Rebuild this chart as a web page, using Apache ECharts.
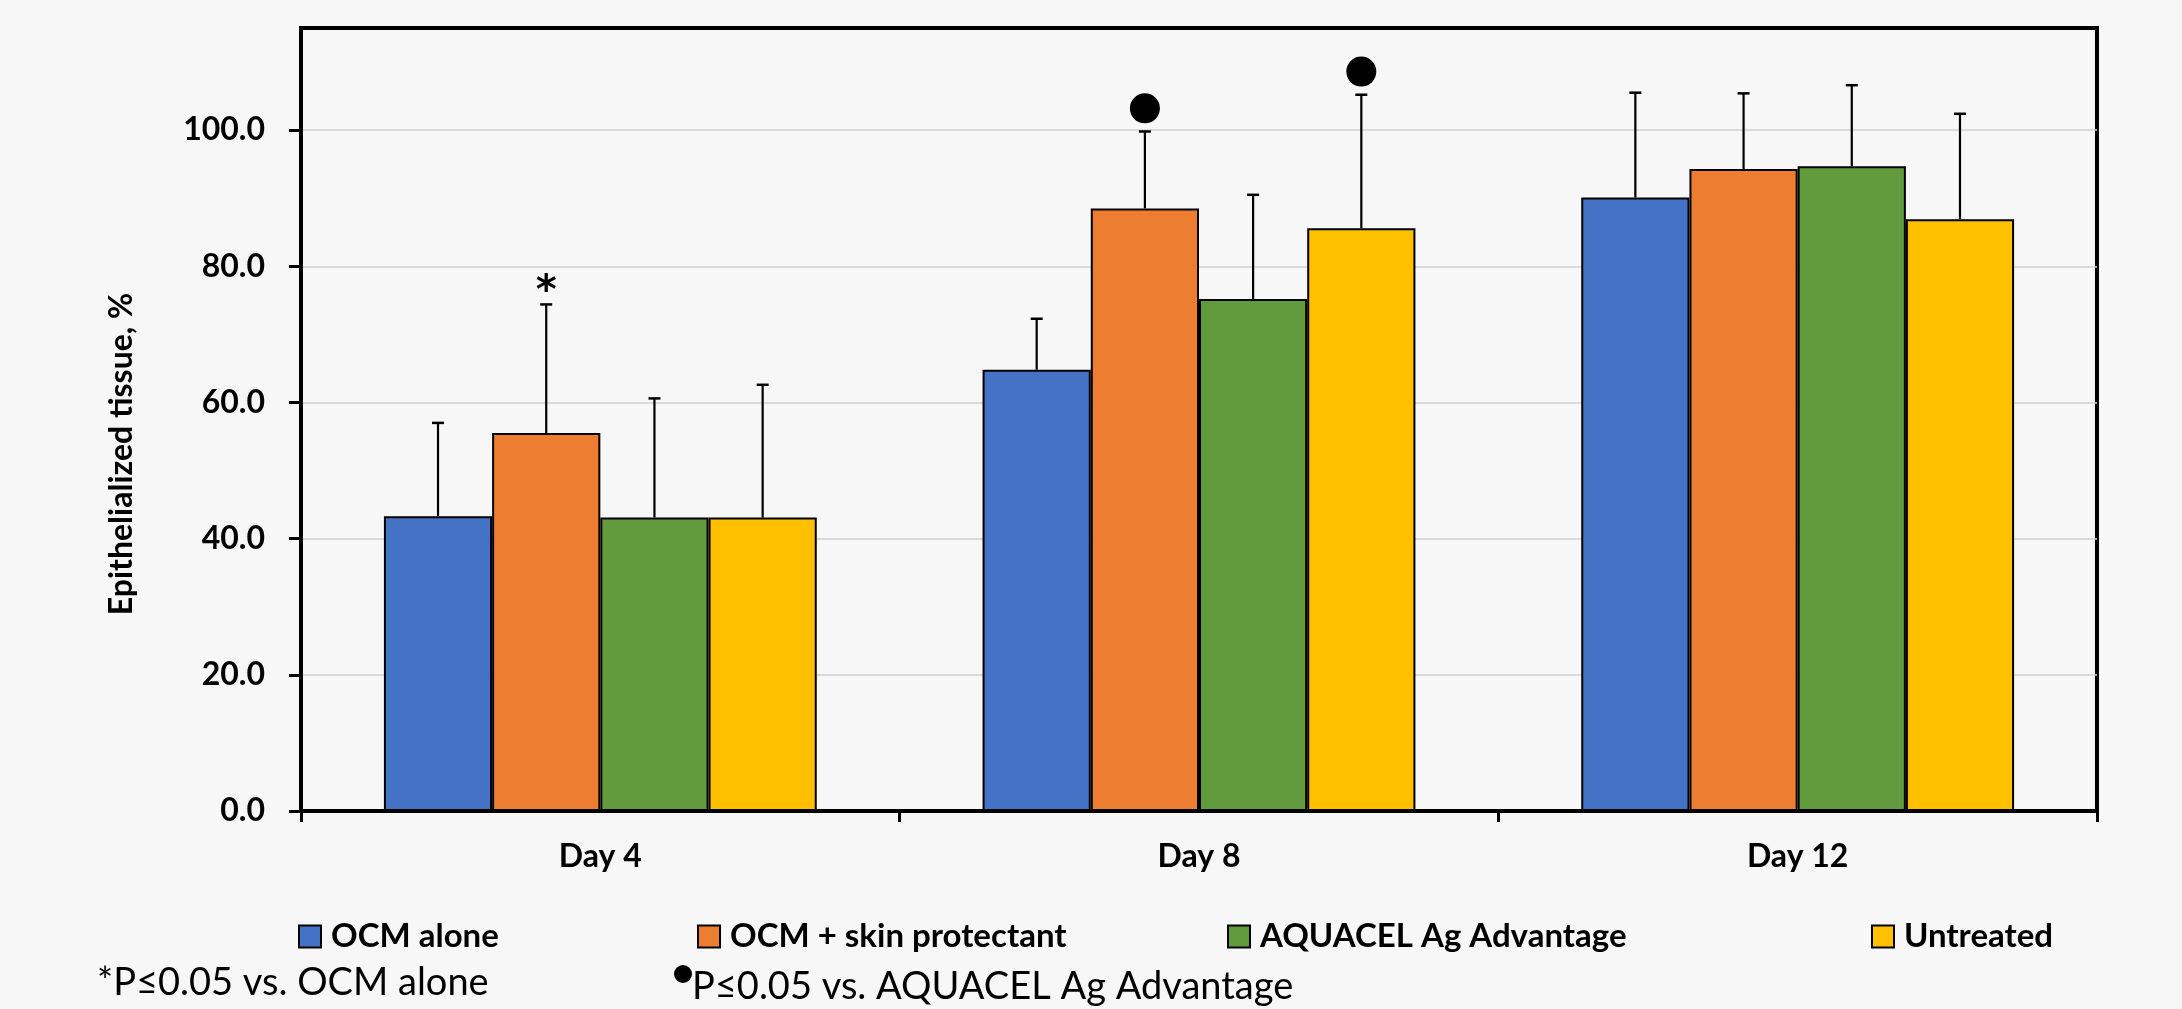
<!DOCTYPE html>
<html>
<head>
<meta charset="utf-8">
<script src="https://cdn.jsdelivr.net/npm/echarts@6/dist/echarts.min.js"></script>
<style>
html,body{margin:0;padding:0;background:#f7f7f7;}
#chart{width:2182px;height:1009px;}
</style>
</head>
<body>
<div id="chart"></div>
<script>
// ---- data ----
const categories = ['Day 4', 'Day 8', 'Day 12'];
const seriesNames = ['OCM alone', 'OCM + skin protectant', 'AQUACEL Ag Advantage', 'Untreated'];
const ocmAlone   = [43.3, 64.8, 90.1];
const ocmSkin    = [55.5, 88.5, 94.3];
const aquacel    = [43.1, 75.2, 94.7];
const untreated  = [43.1, 85.6, 86.9];
const ocmAloneSD  = [13.7, 7.5, 15.4];
const ocmSkinSD   = [18.9, 11.3, 11.1];
const aquacelSD   = [17.5, 15.3, 11.9];
const untreatedSD = [19.5, 19.6, 15.5];
const yTickValues = [0, 20, 40, 60, 80, 100];
// significance marks: category index, series index, value position, mark
const sigCat    = [0, 1, 1];
const sigSeries = [1, 1, 3];
const sigValue  = [77.4, 103.2, 108.6];
const sigMark   = ['*', 'dot', 'dot'];
const footnote1 = '*P≤0.05 vs. OCM alone';
const footnote2 = 'P≤0.05 vs. AQUACEL Ag Advantage';

// ---- styles ----
const colors = ['#4472C4', '#ED7D31', '#629A3E', '#FFC000'];
const GAP = 0.277;
const FONT = 'Lato, "Open Sans", sans-serif';

const means = [ocmAlone, ocmSkin, aquacel, untreated];
const sds = [ocmAloneSD, ocmSkinSD, aquacelSD, untreatedSD];

const errData = [];
means.forEach((arr, s) => arr.forEach((m, c) => errData.push([c, s, m, sds[s][c]])));
const sigData = sigCat.map((c, i) => [c, sigSeries[i], sigValue[i], i]);

function barCenterX(api, cat, s) {
  const catW = api.size([1, 0])[0];
  const barW = catW * (1 - GAP) / 4;
  return api.coord([cat, 0])[0] + (s - 1.5) * barW;
}

const barSeries = seriesNames.map((name, s) => ({
  name: name,
  type: 'bar',
  data: means[s],
  barGap: '0%',
  barCategoryGap: (GAP * 100) + '%',
  itemStyle: { color: colors[s], borderColor: '#000', borderWidth: 2 },
  emphasis: { disabled: true }
}));

const chart = echarts.init(document.getElementById('chart'));
chart.setOption({
  backgroundColor: '#f7f7f7',
  animation: false,
  grid: { left: 301, right: 85, top: 28, bottom: 198, show: true, borderColor: '#000', borderWidth: 4, backgroundColor: 'transparent' },
  xAxis: {
    type: 'category',
    data: categories,
    axisLine: { show: true, lineStyle: { color: '#000', width: 4 } },
    axisTick: { show: true, length: 11, lineStyle: { color: '#000', width: 3 } },
    axisLabel: { color: '#000', fontFamily: FONT, fontWeight: 'bold', fontSize: 32, margin: 30 }
  },
  yAxis: {
    type: 'value',
    min: 0, max: 115, interval: 20,
    axisLine: { show: true, lineStyle: { color: '#000', width: 4 } },
    axisTick: { show: true, length: 12, lineStyle: { color: '#000', width: 3 },
      customValues: yTickValues },
    axisLabel: { color: '#000', fontFamily: FONT, fontWeight: 'bold', fontSize: 32, margin: 36,
      customValues: yTickValues,
      formatter: v => (yTickValues.indexOf(v) >= 0 ? v.toFixed(1) : '') },
    splitLine: { show: true, lineStyle: { color: '#d0d0d0', width: 1.5 } }
  },
  legend: seriesNames.map((n, i) => ({
    data: [n],
    left: [293, 692, 1222, 1866][i],
    top: 915,
    icon: 'rect',
    itemWidth: 22, itemHeight: 22,
    selectedMode: false,
    textStyle: { color: '#000', fontFamily: FONT, fontWeight: 'bold', fontSize: 33, lineHeight: 22, padding: [0, 0, 0, 5] }
  })),
  graphic: [
    { type: 'text', x: 122, y: 454, rotation: Math.PI / 2,
      style: { text: 'Epithelialized tissue, %', font: 'bold 32px ' + FONT, fill: '#000', align: 'center', verticalAlign: 'middle' } },
    { type: 'text', x: 97, y: 983,
      style: { text: footnote1, font: '38px ' + FONT, fill: '#000', align: 'left', verticalAlign: 'middle' } },
    { type: 'circle', shape: { cx: 683, cy: 974, r: 9 }, style: { fill: '#000' } },
    { type: 'text', x: 692, y: 987,
      style: { text: footnote2, font: '38px ' + FONT, fill: '#000', align: 'left', verticalAlign: 'middle' } }
  ],
  series: barSeries.concat([
    {
      type: 'custom',
      name: 'err',
      data: errData,
      encode: { x: 0, y: 2 },
      z: 5,
      silent: true,
      renderItem: function (params, api) {
        const cat = api.value(0), s = api.value(1), m = api.value(2), sd = api.value(3);
        const x = barCenterX(api, cat, s);
        const yb = api.coord([cat, m])[1];
        const yt = api.coord([cat, m + sd])[1];
        return {
          type: 'group',
          children: [
            { type: 'line', shape: { x1: x, y1: yb, x2: x, y2: yt }, style: { stroke: '#000', lineWidth: 2.2 } },
            { type: 'line', shape: { x1: x - 6, y1: yt, x2: x + 6, y2: yt }, style: { stroke: '#000', lineWidth: 2.5 } }
          ]
        };
      }
    },
    {
      type: 'custom',
      name: 'sig',
      data: sigData,
      encode: { x: 0, y: 2 },
      z: 6,
      silent: true,
      renderItem: function (params, api) {
        const cat = api.value(0), s = api.value(1), v = api.value(2), idx = api.value(3);
        const x = barCenterX(api, cat, s);
        const y = api.coord([cat, v])[1];
        if (sigMark[idx] === 'dot') {
          return { type: 'circle', shape: { cx: x, cy: y, r: 15 }, style: { fill: '#000' } };
        }
        return { type: 'text', x: x, y: y + 9, style: { text: '*', font: 'bold 40px "DejaVu Sans"', fill: '#000', align: 'center', verticalAlign: 'middle' } };
      }
    }
  ])
});
</script>
</body>
</html>
